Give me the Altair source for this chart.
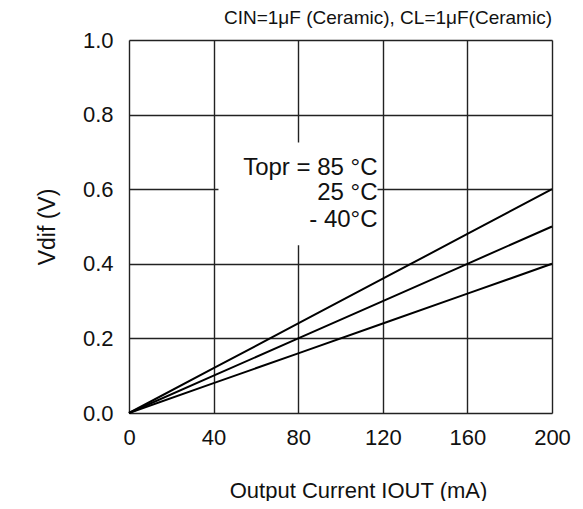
import altair as alt
import pandas as pd

current = [0, 40, 80, 120, 160, 200]
v_85 = [0.0, 0.12, 0.24, 0.36, 0.48, 0.60]
v_25 = [0.0, 0.10, 0.20, 0.30, 0.40, 0.50]
v_m40 = [0.0, 0.08, 0.16, 0.24, 0.32, 0.40]
series = ["85", "25", "-40"]

x_ticks = [0, 40, 80, 120, 160, 200]
y_ticks = [0.0, 0.2, 0.4, 0.6, 0.8, 1.0]

ann_lines = ["Topr = 85 \u00b0C", "25 \u00b0C", "- 40\u00b0C"]
ann_x = [117.5, 117.5, 117.5]
ann_y = [0.658, 0.591, 0.518]
box_x = [42.3]
box_x2 = [117.5]
box_y = [0.45]
box_y2 = [0.725]

FONT = "Liberation Sans"

rows = []
for name, vals in zip(series, [v_85, v_25, v_m40]):
    for c, v in zip(current, vals):
        rows.append({"I": c, "V": v, "T": name})
df = pd.DataFrame(rows)

xs = alt.Scale(domain=[0, 200], nice=False)
ys = alt.Scale(domain=[0, 1.0], nice=False)

xaxis = alt.Axis(values=x_ticks, title="Output Current IOUT (mA)", domain=False, ticks=False,
                 grid=True, gridColor="#222222", gridWidth=1.4, labelFont=FONT, labelFontSize=22,
                 labelColor="#111111", labelPadding=14, titleFont=FONT, titleFontSize=22,
                 titleFontWeight="normal", titleColor="#111111", titlePadding=32, labelFlush=False,
                 titleX=229, titleAlign="center")
yaxis = alt.Axis(values=y_ticks, format=".1f", title="Vdif (V)", domain=False, ticks=False,
                 grid=True, gridColor="#222222", gridWidth=1.4, labelFont=FONT, labelFontSize=22,
                 labelColor="#111111", labelPadding=16, titleFont=FONT, titleFontSize=23,
                 titleFontWeight="normal", titleColor="#111111", titlePadding=23, labelFlush=False)

lines = alt.Chart(df).mark_line(color="black", strokeWidth=2).encode(
    x=alt.X("I:Q", scale=xs, axis=xaxis),
    y=alt.Y("V:Q", scale=ys, axis=yaxis),
    detail="T:N",
)

box = alt.Chart(pd.DataFrame({"x": box_x, "x2": box_x2, "y": box_y, "y2": box_y2})).mark_rect(
    color="white").encode(x=alt.X("x:Q", scale=xs), x2="x2", y=alt.Y("y:Q", scale=ys), y2="y2")

ann = alt.Chart(pd.DataFrame({"t": ann_lines, "x": ann_x, "y": ann_y})).mark_text(
    align="right", baseline="middle", font=FONT, fontSize=24, color="#111111").encode(
    x=alt.X("x:Q", scale=xs), y=alt.Y("y:Q", scale=ys), text="t:N")

chart = alt.layer(box, lines, ann).properties(
    width=423, height=373,
    title=alt.TitleParams("CIN=1\u03bcF (Ceramic), CL=1\u03bcF(Ceramic)", anchor="end", frame="group",
                          font=FONT, fontSize=19, fontWeight="normal", color="#111111", offset=1),
    autosize=alt.AutoSizeParams(type="none"),
    padding={"left": 121, "top": 32, "right": 22, "bottom": 88},
).configure_view(stroke="black", strokeWidth=2).configure(background="white")

chart.save("out.html", embed_options={"renderer": "svg", "actions": False})
